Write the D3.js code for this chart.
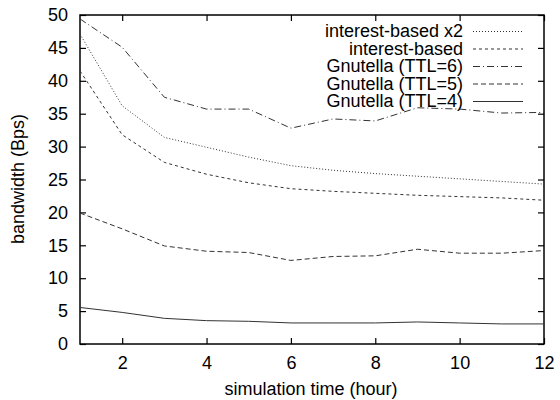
<!DOCTYPE html>
<html>
<head>
<meta charset="utf-8">
<script src="https://cdn.jsdelivr.net/npm/d3@7"></script>
<style>
  body { margin: 0; background: #fff; }
  svg { display: block; font-family: "Liberation Sans", Arial, sans-serif; }
</style>
</head>
<body>
<div id="chart"></div>
<script>
// simulation hours
var hours = [1, 2, 3, 4, 5, 6, 7, 8, 9, 10, 11, 12];

// bandwidth (Bps) per series
var interestX2 = [47.1, 36.2, 31.4, 29.9, 28.4, 27.1, 26.4, 25.9, 25.5, 25.1, 24.7, 24.3];
var interest   = [41.5, 31.8, 27.6, 25.8, 24.5, 23.6, 23.2, 22.9, 22.6, 22.4, 22.2, 21.85];
var ttl6       = [49.4, 45.1, 37.5, 35.7, 35.7, 32.8, 34.2, 33.9, 35.9, 35.7, 35.1, 35.2];
var ttl5       = [19.9, 17.5, 14.9, 14.1, 13.9, 12.7, 13.3, 13.4, 14.4, 13.8, 13.8, 14.2];
var ttl4       = [5.55, 4.8, 3.9, 3.55, 3.45, 3.2, 3.2, 3.2, 3.35, 3.2, 3.05, 3.05];

var seriesNames = ["interest-based x2", "interest-based", "Gnutella (TTL=6)", "Gnutella (TTL=5)", "Gnutella (TTL=4)"];
var seriesValues = [interestX2, interest, ttl6, ttl5, ttl4];
var dashes = ["1,2", "3,3", "7,3,1,3", "5,3", null];

var xTicks = [2, 4, 6, 8, 10, 12];
var yTicks = [0, 5, 10, 15, 20, 25, 30, 35, 40, 45, 50];

var fs = 18;

var svg = d3.select("#chart").append("svg");
svg.attr("width", 560).attr("height", 400);
var margin = { top: 15, left: 80, bottom: 56, right: 16 };
var width = +svg.attr("width") - margin.left - margin.right;
var height = +svg.attr("height") - margin.top - margin.bottom;

var x = d3.scaleLinear().domain([1, 12]).range([margin.left, margin.left + width]);
var y = d3.scaleLinear().domain([0, 50]).range([margin.top + height, margin.top]);

function styleAxis(g) {
  g.select(".domain").remove();
  g.selectAll(".tick line").attr("stroke", "#000").attr("stroke-width", 1.2);
  g.selectAll("text").attr("fill", "#000").attr("font-size", fs);
}

svg.append("g")
  .attr("transform", `translate(0,${margin.top + height})`)
  .call(d3.axisBottom(x).tickValues(xTicks).tickSize(-6).tickPadding(12))
  .call(styleAxis);

svg.append("g")
  .attr("transform", `translate(0,${margin.top})`)
  .call(d3.axisTop(x).tickValues(xTicks).tickSize(-6).tickFormat(""))
  .call(styleAxis);

svg.append("g")
  .attr("transform", `translate(${margin.left},0)`)
  .call(d3.axisLeft(y).tickValues(yTicks).tickSize(-6).tickPadding(12))
  .call(styleAxis);

svg.append("g")
  .attr("transform", `translate(${margin.left + width},0)`)
  .call(d3.axisRight(y).tickValues(yTicks).tickSize(-6).tickFormat(""))
  .call(styleAxis);

// frame
svg.append("rect")
  .attr("x", margin.left)
  .attr("y", margin.top)
  .attr("width", width)
  .attr("height", height)
  .attr("fill", "none")
  .attr("stroke", "#000")
  .attr("stroke-width", 1.5);

var line = d3.line()
  .x((d, i) => x(hours[i]))
  .y((d) => y(d));

svg.append("g")
  .selectAll("path")
  .data(seriesValues)
  .enter()
  .append("path")
  .attr("d", (d) => line(d))
  .attr("fill", "none")
  .attr("stroke", "#333")
  .attr("stroke-width", 1)
  .attr("stroke-dasharray", (d, i) => dashes[i]);

// legend
var legend = svg.append("g")
  .selectAll("g")
  .data(seriesNames)
  .enter()
  .append("g")
  .attr("transform", (d, i) => `translate(463,${31.5 + i * 17.5})`);

legend.append("text")
  .attr("text-anchor", "end")
  .attr("dy", "0.33em")
  .attr("font-size", fs)
  .attr("fill", "#000")
  .text((d) => d);

legend.append("line")
  .attr("x1", 10)
  .attr("x2", 60)
  .attr("stroke", "#333")
  .attr("stroke-width", 1)
  .attr("stroke-dasharray", (d, i) => dashes[i]);

// axis titles
svg.append("text")
  .attr("x", 311)
  .attr("y", 395)
  .attr("text-anchor", "middle")
  .attr("font-size", fs)
  .text("simulation time (hour)");

svg.append("text")
  .attr("transform", `translate(24,179) rotate(-90)`)
  .attr("text-anchor", "middle")
  .attr("font-size", fs)
  .text("bandwidth (Bps)");
</script>
</body>
</html>
